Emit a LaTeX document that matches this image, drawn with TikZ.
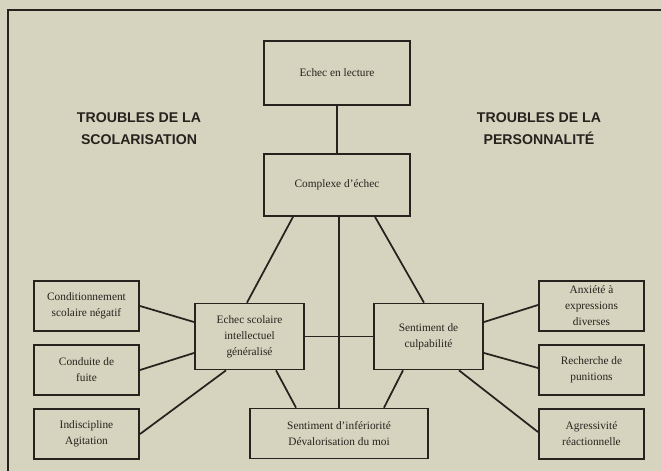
\documentclass[tikz,border=0pt]{standalone}
\usepackage{fontspec}
\setmainfont{Liberation Serif}
\newfontfamily\headfont{Liberation Sans}
\usepackage{tikz}
\usetikzlibrary{calc}
\definecolor{paper}{RGB}{214,211,190}
\definecolor{ink}{RGB}{38,34,30}
\tikzstyle{diagbox} = [draw=ink, fill=paper, line width=1.3pt, rectangle,
    align=center, text=ink, inner sep=2pt, font=\fontsize{8.5}{12}\selectfont]
\tikzstyle{sidebox} = [diagbox, minimum width=79pt, minimum height=37.5pt]
\tikzstyle{headtitle} = [text=ink, align=center,
    font=\headfont\bfseries\fontsize{10.6}{16.5}\selectfont]
\tikzstyle{link} = [draw=ink, line width=1.3pt]

\begin{document}
\begin{tikzpicture}[x=0.75pt, y=-0.75pt]
                \fill[paper] (0,0) rectangle (661,471);
                \useasboundingbox (0,0) rectangle (661,471);
                % frame
                \coordinate (frametl) at (8,10);
                \draw[ink, line width=1.4pt] (661,10) -- (frametl) -- (8,471);
                % titles
                \node[headtitle] (titleleft) at (139,129) {TROUBLES DE LA\\SCOLARISATION};
                \node[headtitle] (titleright) at (539,129) {TROUBLES DE LA\\PERSONNALIT\'E};
                % centre column
                \node[diagbox, minimum width=109.5pt, minimum height=48pt] (lecture) at (337,73) {Echec en lecture};
                \node[diagbox, minimum width=109.5pt, minimum height=46.5pt] (complexe) at (337,185) {Complexe d'\'echec};
                \node[diagbox, minimum width=82pt, minimum height=49.5pt] (scolaire) at (249.5,336.5) {Echec scolaire\\intellectuel\\g\'en\'eralis\'e};
                \node[diagbox, minimum width=82pt, minimum height=49.5pt] (culpab) at (428.5,336.5) {Sentiment de\\culpabilit\'e};
                \node[diagbox, minimum width=133.5pt, minimum height=37.5pt] (inferio) at (339,433.5) {Sentiment d'inf\'eriorit\'e\\D\'evalorisation du moi};
                % left column
                \node[sidebox] (cond) at (86.5,306) {Conditionnement\\scolaire n\'egatif};
                \node[sidebox] (fuite) at (86.5,370) {Conduite de\\fuite};
                \node[sidebox] (indisc) at (86.5,434) {Indiscipline\\Agitation};
                % right column
                \node[sidebox] (anxiete) at (591.5,306) {Anxi\'et\'e \`a\\expressions\\diverses};
                \node[sidebox] (recherche) at (591.5,370) {Recherche de\\punitions};
                \node[sidebox] (agress) at (591.5,434) {Agressivit\'e\\r\'eactionnelle};
                % links
                \draw[link] (lecture.south) -- (complexe.north);
                \draw[link] ($(complexe.south)+(-44,0)$) -- ($(scolaire.north)+(-2.5,0)$);
                \draw[link] ($(complexe.south)+(2,0)$) -- ($(inferio.north)+(0,0)$);
                \draw[link] ($(complexe.south)+(38,0)$) -- ($(culpab.north)+(-4.5,0)$);
                \draw[link] (scolaire.east) -- (culpab.west);
                \draw[link] ($(scolaire.south)+(26.5,0)$) -- ($(inferio.north)+(-43,0)$);
                \draw[link] ($(culpab.south)+(-25.5,0)$) -- ($(inferio.north)+(45,0)$);
                \draw[link] (cond.east) -- ($(scolaire.west)+(0,-14.5)$);
                \draw[link] (fuite.east) -- ($(scolaire.west)+(0,16.5)$);
                \draw[link] (indisc.east) -- ($(scolaire.south)+(-23.5,0)$);
                \draw[link] ($(culpab.east)+(0,-14.5)$) -- ($(anxiete.west)+(0,-1)$);
                \draw[link] ($(culpab.east)+(0,16.5)$) -- ($(recherche.west)+(0,-2)$);
                \draw[link] ($(culpab.south)+(30.5,0)$) -- ($(agress.west)+(0,-2)$);
            \end{tikzpicture}
\end{document}
